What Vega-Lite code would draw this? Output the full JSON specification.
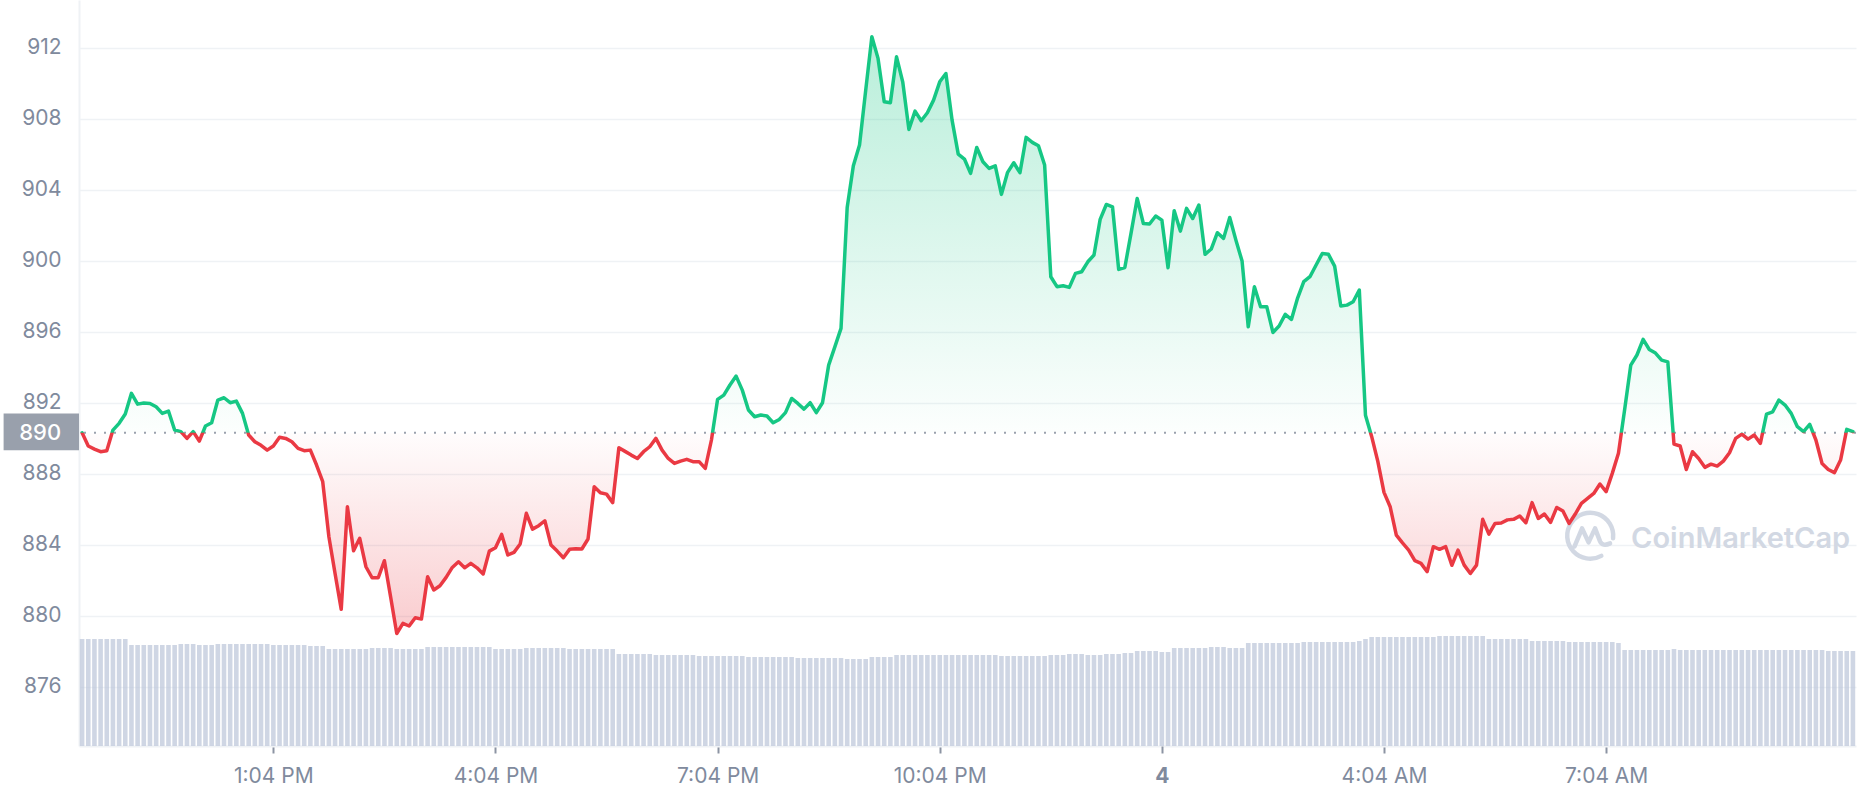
{
  "$schema": "https://vega.github.io/schema/vega-lite/v6.json",
  "width": 1777,
  "height": 746,
  "autosize": {"type": "none"},
  "padding": {"left": 79, "top": 0, "right": 2, "bottom": 54},
  "background": "white",
  "config": {"view": {"stroke": null}, "font": "Inter", "scale": {"continuousPadding": 0}},
  "datasets": {
    "main": [
      {"t":"2023-03-03T10:29Z","p":890.31,"v":107},{"t":"2023-03-03T10:34Z","p":889.56,"v":107},{"t":"2023-03-03T10:39Z","p":889.39,"v":107},{"t":"2023-03-03T10:44Z","p":889.24,"v":107},{"t":"2023-03-03T10:49Z","p":889.30,"v":107},{"t":"2023-03-03T10:54Z","p":890.46,"v":107},{"t":"2023-03-03T10:59Z","p":890.84,"v":107},
      {"t":"2023-03-03T11:04Z","p":891.36,"v":107},{"t":"2023-03-03T11:09Z","p":892.53,"v":101},{"t":"2023-03-03T11:14Z","p":891.92,"v":101},{"t":"2023-03-03T11:19Z","p":891.98,"v":101},{"t":"2023-03-03T11:24Z","p":891.96,"v":101},{"t":"2023-03-03T11:29Z","p":891.77,"v":101},{"t":"2023-03-03T11:34Z","p":891.40,"v":101},{"t":"2023-03-03T11:39Z","p":891.53,"v":101},{"t":"2023-03-03T11:44Z","p":890.46,"v":101},{"t":"2023-03-03T11:49Z","p":890.37,"v":102},{"t":"2023-03-03T11:54Z","p":889.99,"v":102},{"t":"2023-03-03T11:59Z","p":890.37,"v":102},
      {"t":"2023-03-03T12:04Z","p":889.84,"v":101},{"t":"2023-03-03T12:09Z","p":890.69,"v":101},{"t":"2023-03-03T12:14Z","p":890.87,"v":101},{"t":"2023-03-03T12:19Z","p":892.15,"v":102},{"t":"2023-03-03T12:24Z","p":892.28,"v":102},{"t":"2023-03-03T12:29Z","p":892.00,"v":102},{"t":"2023-03-03T12:34Z","p":892.09,"v":102},{"t":"2023-03-03T12:39Z","p":891.40,"v":102},{"t":"2023-03-03T12:44Z","p":890.18,"v":102},{"t":"2023-03-03T12:49Z","p":889.80,"v":102},{"t":"2023-03-03T12:54Z","p":889.60,"v":102},{"t":"2023-03-03T12:59Z","p":889.33,"v":102},
      {"t":"2023-03-03T13:04Z","p":889.56,"v":101},{"t":"2023-03-03T13:09Z","p":890.05,"v":101},{"t":"2023-03-03T13:14Z","p":889.99,"v":101},{"t":"2023-03-03T13:19Z","p":889.80,"v":101},{"t":"2023-03-03T13:24Z","p":889.43,"v":101},{"t":"2023-03-03T13:29Z","p":889.30,"v":101},{"t":"2023-03-03T13:34Z","p":889.33,"v":100},{"t":"2023-03-03T13:39Z","p":888.49,"v":100},{"t":"2023-03-03T13:44Z","p":887.55,"v":100},{"t":"2023-03-03T13:49Z","p":884.45,"v":97},{"t":"2023-03-03T13:54Z","p":882.38,"v":97},{"t":"2023-03-03T13:59Z","p":880.36,"v":97},
      {"t":"2023-03-03T14:04Z","p":886.14,"v":97},{"t":"2023-03-03T14:09Z","p":883.66,"v":97},{"t":"2023-03-03T14:14Z","p":884.36,"v":97},{"t":"2023-03-03T14:19Z","p":882.76,"v":97},{"t":"2023-03-03T14:24Z","p":882.14,"v":98},{"t":"2023-03-03T14:29Z","p":882.14,"v":98},{"t":"2023-03-03T14:34Z","p":883.10,"v":98},{"t":"2023-03-03T14:39Z","p":881.07,"v":98},{"t":"2023-03-03T14:44Z","p":879.00,"v":97},{"t":"2023-03-03T14:49Z","p":879.57,"v":97},{"t":"2023-03-03T14:54Z","p":879.42,"v":97},{"t":"2023-03-03T14:59Z","p":879.89,"v":97},
      {"t":"2023-03-03T15:04Z","p":879.81,"v":97},{"t":"2023-03-03T15:09Z","p":882.20,"v":99},{"t":"2023-03-03T15:14Z","p":881.45,"v":99},{"t":"2023-03-03T15:19Z","p":881.69,"v":99},{"t":"2023-03-03T15:24Z","p":882.16,"v":99},{"t":"2023-03-03T15:29Z","p":882.72,"v":99},{"t":"2023-03-03T15:34Z","p":883.04,"v":99},{"t":"2023-03-03T15:39Z","p":882.70,"v":99},{"t":"2023-03-03T15:44Z","p":882.95,"v":99},{"t":"2023-03-03T15:49Z","p":882.70,"v":99},{"t":"2023-03-03T15:54Z","p":882.35,"v":99},{"t":"2023-03-03T15:59Z","p":883.64,"v":99},
      {"t":"2023-03-03T16:04Z","p":883.83,"v":97},{"t":"2023-03-03T16:09Z","p":884.58,"v":97},{"t":"2023-03-03T16:14Z","p":883.42,"v":97},{"t":"2023-03-03T16:19Z","p":883.57,"v":97},{"t":"2023-03-03T16:24Z","p":884.04,"v":97},{"t":"2023-03-03T16:29Z","p":885.77,"v":98},{"t":"2023-03-03T16:34Z","p":884.88,"v":98},{"t":"2023-03-03T16:39Z","p":885.07,"v":98},{"t":"2023-03-03T16:44Z","p":885.35,"v":98},{"t":"2023-03-03T16:49Z","p":883.98,"v":98},{"t":"2023-03-03T16:54Z","p":883.64,"v":98},{"t":"2023-03-03T16:59Z","p":883.27,"v":98},
      {"t":"2023-03-03T17:04Z","p":883.74,"v":97},{"t":"2023-03-03T17:09Z","p":883.77,"v":97},{"t":"2023-03-03T17:14Z","p":883.76,"v":97},{"t":"2023-03-03T17:19Z","p":884.32,"v":97},{"t":"2023-03-03T17:24Z","p":887.27,"v":97},{"t":"2023-03-03T17:29Z","p":886.93,"v":97},{"t":"2023-03-03T17:34Z","p":886.85,"v":97},{"t":"2023-03-03T17:39Z","p":886.37,"v":97},{"t":"2023-03-03T17:44Z","p":889.46,"v":92},{"t":"2023-03-03T17:49Z","p":889.26,"v":92},{"t":"2023-03-03T17:54Z","p":889.05,"v":92},{"t":"2023-03-03T17:59Z","p":888.86,"v":92},
      {"t":"2023-03-03T18:04Z","p":889.24,"v":92},{"t":"2023-03-03T18:09Z","p":889.52,"v":92},{"t":"2023-03-03T18:14Z","p":889.99,"v":91},{"t":"2023-03-03T18:19Z","p":889.33,"v":91},{"t":"2023-03-03T18:24Z","p":888.86,"v":91},{"t":"2023-03-03T18:29Z","p":888.58,"v":91},{"t":"2023-03-03T18:34Z","p":888.71,"v":91},{"t":"2023-03-03T18:39Z","p":888.81,"v":91},{"t":"2023-03-03T18:44Z","p":888.68,"v":91},{"t":"2023-03-03T18:49Z","p":888.68,"v":90},{"t":"2023-03-03T18:54Z","p":888.30,"v":90},{"t":"2023-03-03T18:59Z","p":889.90,"v":90},
      {"t":"2023-03-03T19:04Z","p":892.19,"v":90},{"t":"2023-03-03T19:09Z","p":892.43,"v":90},{"t":"2023-03-03T19:14Z","p":893.00,"v":90},{"t":"2023-03-03T19:19Z","p":893.50,"v":90},{"t":"2023-03-03T19:24Z","p":892.71,"v":90},{"t":"2023-03-03T19:29Z","p":891.59,"v":89},{"t":"2023-03-03T19:34Z","p":891.21,"v":89},{"t":"2023-03-03T19:39Z","p":891.31,"v":89},{"t":"2023-03-03T19:44Z","p":891.25,"v":89},{"t":"2023-03-03T19:49Z","p":890.87,"v":89},{"t":"2023-03-03T19:54Z","p":891.06,"v":89},{"t":"2023-03-03T19:59Z","p":891.44,"v":89},
      {"t":"2023-03-03T20:04Z","p":892.24,"v":89},{"t":"2023-03-03T20:09Z","p":891.96,"v":88},{"t":"2023-03-03T20:14Z","p":891.64,"v":88},{"t":"2023-03-03T20:19Z","p":892.00,"v":88},{"t":"2023-03-03T20:24Z","p":891.44,"v":88},{"t":"2023-03-03T20:29Z","p":892.00,"v":88},{"t":"2023-03-03T20:34Z","p":894.12,"v":88},{"t":"2023-03-03T20:39Z","p":895.15,"v":88},{"t":"2023-03-03T20:44Z","p":896.19,"v":88},{"t":"2023-03-03T20:49Z","p":903.00,"v":87},{"t":"2023-03-03T20:54Z","p":905.35,"v":87},{"t":"2023-03-03T20:59Z","p":906.52,"v":87},
      {"t":"2023-03-03T21:04Z","p":909.60,"v":87},{"t":"2023-03-03T21:09Z","p":912.62,"v":89},{"t":"2023-03-03T21:14Z","p":911.40,"v":89},{"t":"2023-03-03T21:19Z","p":908.96,"v":89},{"t":"2023-03-03T21:24Z","p":908.90,"v":89},{"t":"2023-03-03T21:29Z","p":911.49,"v":91},{"t":"2023-03-03T21:34Z","p":910.08,"v":91},{"t":"2023-03-03T21:39Z","p":907.40,"v":91},{"t":"2023-03-03T21:44Z","p":908.43,"v":91},{"t":"2023-03-03T21:49Z","p":907.89,"v":91},{"t":"2023-03-03T21:54Z","p":908.34,"v":91},{"t":"2023-03-03T21:59Z","p":909.05,"v":91},
      {"t":"2023-03-03T22:04Z","p":910.08,"v":91},{"t":"2023-03-03T22:09Z","p":910.55,"v":91},{"t":"2023-03-03T22:14Z","p":907.92,"v":91},{"t":"2023-03-03T22:19Z","p":906.01,"v":91},{"t":"2023-03-03T22:24Z","p":905.73,"v":91},{"t":"2023-03-03T22:29Z","p":904.92,"v":91},{"t":"2023-03-03T22:34Z","p":906.38,"v":91},{"t":"2023-03-03T22:39Z","p":905.58,"v":91},{"t":"2023-03-03T22:44Z","p":905.20,"v":91},{"t":"2023-03-03T22:49Z","p":905.35,"v":91},{"t":"2023-03-03T22:54Z","p":903.74,"v":90},{"t":"2023-03-03T22:59Z","p":904.98,"v":90},
      {"t":"2023-03-03T23:04Z","p":905.52,"v":90},{"t":"2023-03-03T23:09Z","p":904.96,"v":90},{"t":"2023-03-03T23:14Z","p":906.95,"v":90},{"t":"2023-03-03T23:19Z","p":906.67,"v":90},{"t":"2023-03-03T23:24Z","p":906.48,"v":90},{"t":"2023-03-03T23:29Z","p":905.39,"v":90},{"t":"2023-03-03T23:34Z","p":899.10,"v":91},{"t":"2023-03-03T23:39Z","p":898.54,"v":91},{"t":"2023-03-03T23:44Z","p":898.59,"v":91},{"t":"2023-03-03T23:49Z","p":898.50,"v":92},{"t":"2023-03-03T23:54Z","p":899.29,"v":92},{"t":"2023-03-03T23:59Z","p":899.38,"v":92},
      {"t":"2023-03-04T00:04Z","p":899.94,"v":91},{"t":"2023-03-04T00:09Z","p":900.32,"v":91},{"t":"2023-03-04T00:14Z","p":902.33,"v":91},{"t":"2023-03-04T00:19Z","p":903.17,"v":92},{"t":"2023-03-04T00:24Z","p":903.04,"v":92},{"t":"2023-03-04T00:29Z","p":899.51,"v":92},{"t":"2023-03-04T00:34Z","p":899.62,"v":93},{"t":"2023-03-04T00:39Z","p":901.54,"v":93},{"t":"2023-03-04T00:44Z","p":903.51,"v":95},{"t":"2023-03-04T00:49Z","p":902.10,"v":95},{"t":"2023-03-04T00:54Z","p":902.07,"v":95},{"t":"2023-03-04T00:59Z","p":902.52,"v":95},
      {"t":"2023-03-04T01:04Z","p":902.29,"v":94},{"t":"2023-03-04T01:09Z","p":899.61,"v":94},{"t":"2023-03-04T01:14Z","p":902.82,"v":98},{"t":"2023-03-04T01:19Z","p":901.67,"v":98},{"t":"2023-03-04T01:24Z","p":902.95,"v":98},{"t":"2023-03-04T01:29Z","p":902.38,"v":98},{"t":"2023-03-04T01:34Z","p":903.14,"v":98},{"t":"2023-03-04T01:39Z","p":900.36,"v":98},{"t":"2023-03-04T01:44Z","p":900.66,"v":99},{"t":"2023-03-04T01:49Z","p":901.58,"v":99},{"t":"2023-03-04T01:54Z","p":901.26,"v":99},{"t":"2023-03-04T01:59Z","p":902.44,"v":98},
      {"t":"2023-03-04T02:04Z","p":901.16,"v":98},{"t":"2023-03-04T02:09Z","p":899.98,"v":98},{"t":"2023-03-04T02:14Z","p":896.28,"v":103},{"t":"2023-03-04T02:19Z","p":898.54,"v":103},{"t":"2023-03-04T02:24Z","p":897.41,"v":103},{"t":"2023-03-04T02:29Z","p":897.41,"v":103},{"t":"2023-03-04T02:34Z","p":895.96,"v":103},{"t":"2023-03-04T02:39Z","p":896.32,"v":103},{"t":"2023-03-04T02:44Z","p":896.98,"v":103},{"t":"2023-03-04T02:49Z","p":896.69,"v":103},{"t":"2023-03-04T02:54Z","p":897.90,"v":103},{"t":"2023-03-04T02:59Z","p":898.82,"v":104},
      {"t":"2023-03-04T03:04Z","p":899.10,"v":104},{"t":"2023-03-04T03:09Z","p":899.76,"v":104},{"t":"2023-03-04T03:14Z","p":900.41,"v":104},{"t":"2023-03-04T03:19Z","p":900.36,"v":104},{"t":"2023-03-04T03:24Z","p":899.70,"v":104},{"t":"2023-03-04T03:29Z","p":897.45,"v":104},{"t":"2023-03-04T03:34Z","p":897.50,"v":104},{"t":"2023-03-04T03:39Z","p":897.69,"v":104},{"t":"2023-03-04T03:44Z","p":898.35,"v":105},{"t":"2023-03-04T03:49Z","p":891.30,"v":107},{"t":"2023-03-04T03:54Z","p":890.10,"v":109},{"t":"2023-03-04T03:59Z","p":888.70,"v":109},
      {"t":"2023-03-04T04:04Z","p":886.95,"v":109},{"t":"2023-03-04T04:09Z","p":886.14,"v":109},{"t":"2023-03-04T04:14Z","p":884.54,"v":109},{"t":"2023-03-04T04:19Z","p":884.10,"v":109},{"t":"2023-03-04T04:24Z","p":883.70,"v":109},{"t":"2023-03-04T04:29Z","p":883.10,"v":109},{"t":"2023-03-04T04:34Z","p":882.95,"v":109},{"t":"2023-03-04T04:39Z","p":882.48,"v":109},{"t":"2023-03-04T04:44Z","p":883.89,"v":109},{"t":"2023-03-04T04:49Z","p":883.74,"v":110},{"t":"2023-03-04T04:54Z","p":883.89,"v":110},{"t":"2023-03-04T04:59Z","p":882.84,"v":110},
      {"t":"2023-03-04T05:04Z","p":883.70,"v":110},{"t":"2023-03-04T05:09Z","p":882.85,"v":110},{"t":"2023-03-04T05:14Z","p":882.38,"v":110},{"t":"2023-03-04T05:19Z","p":882.85,"v":110},{"t":"2023-03-04T05:24Z","p":885.43,"v":110},{"t":"2023-03-04T05:29Z","p":884.60,"v":107},{"t":"2023-03-04T05:34Z","p":885.20,"v":107},{"t":"2023-03-04T05:39Z","p":885.22,"v":107},{"t":"2023-03-04T05:44Z","p":885.40,"v":107},{"t":"2023-03-04T05:49Z","p":885.43,"v":107},{"t":"2023-03-04T05:54Z","p":885.62,"v":107},{"t":"2023-03-04T05:59Z","p":885.24,"v":107},
      {"t":"2023-03-04T06:04Z","p":886.37,"v":105},{"t":"2023-03-04T06:09Z","p":885.48,"v":105},{"t":"2023-03-04T06:14Z","p":885.73,"v":105},{"t":"2023-03-04T06:19Z","p":885.26,"v":105},{"t":"2023-03-04T06:24Z","p":886.10,"v":105},{"t":"2023-03-04T06:29Z","p":885.90,"v":105},{"t":"2023-03-04T06:34Z","p":885.20,"v":104},{"t":"2023-03-04T06:39Z","p":885.73,"v":104},{"t":"2023-03-04T06:44Z","p":886.33,"v":104},{"t":"2023-03-04T06:49Z","p":886.61,"v":104},{"t":"2023-03-04T06:54Z","p":886.89,"v":104},{"t":"2023-03-04T06:59Z","p":887.42,"v":104},
      {"t":"2023-03-04T07:04Z","p":886.99,"v":104},{"t":"2023-03-04T07:09Z","p":888.02,"v":104},{"t":"2023-03-04T07:14Z","p":889.15,"v":103},{"t":"2023-03-04T07:19Z","p":891.60,"v":96},{"t":"2023-03-04T07:24Z","p":894.12,"v":96},{"t":"2023-03-04T07:29Z","p":894.69,"v":96},{"t":"2023-03-04T07:34Z","p":895.57,"v":96},{"t":"2023-03-04T07:39Z","p":895.00,"v":96},{"t":"2023-03-04T07:44Z","p":894.80,"v":96},{"t":"2023-03-04T07:49Z","p":894.40,"v":96},{"t":"2023-03-04T07:54Z","p":894.30,"v":96},{"t":"2023-03-04T07:59Z","p":889.67,"v":97},
      {"t":"2023-03-04T08:04Z","p":889.56,"v":96},{"t":"2023-03-04T08:09Z","p":888.24,"v":96},{"t":"2023-03-04T08:14Z","p":889.24,"v":96},{"t":"2023-03-04T08:19Z","p":888.86,"v":96},{"t":"2023-03-04T08:24Z","p":888.36,"v":96},{"t":"2023-03-04T08:29Z","p":888.54,"v":96},{"t":"2023-03-04T08:34Z","p":888.43,"v":96},{"t":"2023-03-04T08:39Z","p":888.71,"v":96},{"t":"2023-03-04T08:44Z","p":889.18,"v":96},{"t":"2023-03-04T08:49Z","p":889.99,"v":96},{"t":"2023-03-04T08:54Z","p":890.23,"v":96},{"t":"2023-03-04T08:59Z","p":889.95,"v":96},
      {"t":"2023-03-04T09:04Z","p":890.18,"v":96},{"t":"2023-03-04T09:09Z","p":889.71,"v":96},{"t":"2023-03-04T09:14Z","p":891.36,"v":96},{"t":"2023-03-04T09:19Z","p":891.49,"v":96},{"t":"2023-03-04T09:24Z","p":892.15,"v":96},{"t":"2023-03-04T09:29Z","p":891.87,"v":96},{"t":"2023-03-04T09:34Z","p":891.40,"v":96},{"t":"2023-03-04T09:39Z","p":890.65,"v":96},{"t":"2023-03-04T09:44Z","p":890.37,"v":96},{"t":"2023-03-04T09:49Z","p":890.78,"v":96},{"t":"2023-03-04T09:54Z","p":889.90,"v":96},{"t":"2023-03-04T09:59Z","p":888.58,"v":96},
      {"t":"2023-03-04T10:04Z","p":888.24,"v":95},{"t":"2023-03-04T10:09Z","p":888.06,"v":95},{"t":"2023-03-04T10:14Z","p":888.77,"v":95},{"t":"2023-03-04T10:19Z","p":890.50,"v":95},{"t":"2023-03-04T10:24Z","p":890.37,"v":95}
    ],
    "box": [{"t": "2023-03-03T09:25:24Z", "t2": "2023-03-03T10:26:30Z", "p": 889.32, "p2": 891.39}],
    "boxlabel": [{"t": "2023-03-03T09:55:05Z", "p": 890.31, "label": "890"}],
    "ref": [{"p": 890.31}],
    "wmtext": [{"t": "2023-03-04T07:24:15Z", "p": 884.3, "label": "CoinMarketCap"}],
    "wmlogo": [{"t": "2023-03-04T06:51:00Z", "p": 884.5}]
  },
  "resolve": {"scale": {"y": "independent"}, "axis": {"x": "independent"}},
  "layer": [
    {
      "data": {"name": "main"},
      "mark": {"type": "bar", "size": 4.6, "color": "#bac4d8", "opacity": 0.7},
      "encoding": {
        "x": {
          "field": "t", "type": "temporal",
          "scale": {"type": "utc", "padding": 0, "domain": [{"year": 2023, "month": 3, "date": 3, "hours": 10, "minutes": 26, "seconds": 30, "utc": true}, {"year": 2023, "month": 3, "date": 4, "hours": 10, "minutes": 26, "seconds": 30, "utc": true}]},
          "axis": {
            "orient": "bottom",
            "title": null,
            "grid": false,
            "values": [
              {"year": 2023, "month": 3, "date": 3, "hours": 13, "minutes": 4, "utc": true},
              {"year": 2023, "month": 3, "date": 3, "hours": 16, "minutes": 4, "utc": true},
              {"year": 2023, "month": 3, "date": 3, "hours": 19, "minutes": 4, "utc": true},
              {"year": 2023, "month": 3, "date": 3, "hours": 22, "minutes": 4, "utc": true},
              {"year": 2023, "month": 3, "date": 4, "hours": 4, "minutes": 4, "utc": true},
              {"year": 2023, "month": 3, "date": 4, "hours": 7, "minutes": 4, "utc": true}
            ],
            "labelExpr": "utcFormat(datum.value, '%-I:%M %p')",
            "labelFont": "Inter",
            "labelFontSize": 21,
            "labelFontWeight": "normal",
            "labelColor": "#808a9d",
            "labelPadding": 12,
            "labelFlush": false,
            "labelOverlap": false,
            "domain": true,
            "domainColor": "#eff2f5",
            "domainWidth": 2,
            "ticks": true,
            "tickColor": "#8c94a3",
            "tickSize": 7,
            "tickWidth": 2
          }
        },
        "y": {"field": "v", "type": "quantitative", "scale": {"domain": [0, 746], "nice": false, "padding": 0}, "axis": null}
      }
    },
    {
      "data": {"name": "wmlogo"},
      "mark": {"type": "point", "shape": "M0.92,0.1 A0.92,0.92 0 1,0 0.45,0.8 M-0.62,0.42 L-0.32,-0.3 L-0.06,0.26 L0.2,-0.3 L0.4,0.22 Q0.5,0.44 0.8,0.3", "size": 2500, "filled": false, "color": "#d2d8e3", "strokeWidth": 4.5, "opacity": 1, "strokeCap": "round", "strokeJoin": "round"},
      "encoding": {
        "x": {"field": "t", "type": "temporal", "scale": {"type": "utc", "padding": 0, "domain": [{"year": 2023, "month": 3, "date": 3, "hours": 10, "minutes": 26, "seconds": 30, "utc": true}, {"year": 2023, "month": 3, "date": 4, "hours": 10, "minutes": 26, "seconds": 30, "utc": true}]}, "axis": null},
        "y": {"field": "p", "type": "quantitative", "scale": {"domain": [872.66, 914.69], "nice": false, "zero": false}, "axis": null}
      }
    },
    {
      "data": {"name": "wmtext"},
      "mark": {"type": "text", "align": "left", "baseline": "middle", "font": "Inter", "fontSize": 29, "fontWeight": 600, "color": "#d2d8e3"},
      "encoding": {
        "x": {"field": "t", "type": "temporal", "scale": {"type": "utc", "padding": 0, "domain": [{"year": 2023, "month": 3, "date": 3, "hours": 10, "minutes": 26, "seconds": 30, "utc": true}, {"year": 2023, "month": 3, "date": 4, "hours": 10, "minutes": 26, "seconds": 30, "utc": true}]}, "axis": null},
        "y": {"field": "p", "type": "quantitative", "scale": {"domain": [872.66, 914.69], "nice": false, "zero": false}, "axis": null},
        "text": {"field": "label"}
      }
    },
    {
      "data": {"name": "main"},
      "mark": {
        "type": "area",
        "interpolate": "linear",
        "fill": {"gradient": "linear", "x1": 0, "y1": 0, "x2": 0, "y2": 1, "stops": [
          {"offset": 0, "color": "rgba(22,199,132,0.30)"},
          {"offset": 0.6636, "color": "rgba(22,199,132,0.01)"},
          {"offset": 0.6637, "color": "rgba(234,57,67,0.01)"},
          {"offset": 1, "color": "rgba(234,57,67,0.26)"}
        ]}
      },
      "encoding": {
        "x": {"field": "t", "type": "temporal", "scale": {"type": "utc", "padding": 0, "domain": [{"year": 2023, "month": 3, "date": 3, "hours": 10, "minutes": 26, "seconds": 30, "utc": true}, {"year": 2023, "month": 3, "date": 4, "hours": 10, "minutes": 26, "seconds": 30, "utc": true}]}, "axis": null},
        "y": {
          "field": "p", "type": "quantitative",
          "scale": {"domain": [872.66, 914.69], "nice": false, "zero": false},
          "axis": {
            "orient": "left",
            "title": null,
            "values": [876, 880, 884, 888, 892, 896, 900, 904, 908, 912],
            "grid": true,
            "gridColor": "#eff2f5",
            "gridWidth": 1.5,
            "domain": true,
            "domainColor": "#eff2f5",
            "domainWidth": 2,
            "ticks": false,
            "labelFont": "Inter",
            "labelFontSize": 21,
            "labelColor": "#808a9d",
            "labelPadding": 18
          }
        },
        "y2": {"datum": 890.31}
      }
    },
    {
      "data": {"name": "ref"},
      "mark": {"type": "rule", "strokeDash": [2, 8], "color": "#9aa1ad", "strokeWidth": 2},
      "encoding": {
        "y": {"field": "p", "type": "quantitative", "scale": {"domain": [872.66, 914.69], "nice": false, "zero": false}, "axis": null}
      }
    },
    {
      "data": {"name": "main"},
      "mark": {
        "type": "line",
        "interpolate": "linear",
        "strokeWidth": 3.5,
        "strokeJoin": "round",
        "strokeCap": "round",
        "stroke": {"gradient": "linear", "x1": 0, "y1": 0, "x2": 0, "y2": 1, "stops": [
          {"offset": 0, "color": "#16c784"},
          {"offset": 0.6625, "color": "#16c784"},
          {"offset": 0.6648, "color": "#ea3943"},
          {"offset": 1, "color": "#ea3943"}
        ]}
      },
      "encoding": {
        "x": {
          "field": "t", "type": "temporal",
          "scale": {"type": "utc", "padding": 0, "domain": [{"year": 2023, "month": 3, "date": 3, "hours": 10, "minutes": 26, "seconds": 30, "utc": true}, {"year": 2023, "month": 3, "date": 4, "hours": 10, "minutes": 26, "seconds": 30, "utc": true}]},
          "axis": {
            "orient": "bottom",
            "title": null,
            "grid": false,
            "values": [{"year": 2023, "month": 3, "date": 4, "hours": 1, "minutes": 4, "utc": true}],
            "labelExpr": "utcFormat(datum.value, '%-d')",
            "labelFont": "Inter",
            "labelFontSize": 21,
            "labelFontWeight": "bold",
            "labelColor": "#808a9d",
            "labelPadding": 12,
            "labelFlush": false,
            "labelOverlap": false,
            "domain": false,
            "ticks": true,
            "tickColor": "#8c94a3",
            "tickSize": 7,
            "tickWidth": 2
          }
        },
        "y": {"field": "p", "type": "quantitative", "scale": {"domain": [872.66, 914.69], "nice": false, "zero": false}, "axis": null}
      }
    },
    {
      "data": {"name": "box"},
      "mark": {"type": "rect", "color": "#99a0ac"},
      "encoding": {
        "x": {"field": "t", "type": "temporal", "scale": {"type": "utc", "padding": 0, "domain": [{"year": 2023, "month": 3, "date": 3, "hours": 10, "minutes": 26, "seconds": 30, "utc": true}, {"year": 2023, "month": 3, "date": 4, "hours": 10, "minutes": 26, "seconds": 30, "utc": true}]}, "axis": null},
        "x2": {"field": "t2"},
        "y": {"field": "p", "type": "quantitative", "scale": {"domain": [872.66, 914.69], "nice": false, "zero": false}, "axis": null},
        "y2": {"field": "p2"}
      }
    },
    {
      "data": {"name": "boxlabel"},
      "mark": {"type": "text", "align": "center", "baseline": "middle", "font": "Inter", "fontSize": 22, "fontWeight": 500, "color": "#ffffff"},
      "encoding": {
        "x": {"field": "t", "type": "temporal", "scale": {"type": "utc", "padding": 0, "domain": [{"year": 2023, "month": 3, "date": 3, "hours": 10, "minutes": 26, "seconds": 30, "utc": true}, {"year": 2023, "month": 3, "date": 4, "hours": 10, "minutes": 26, "seconds": 30, "utc": true}]}, "axis": null},
        "y": {"field": "p", "type": "quantitative", "scale": {"domain": [872.66, 914.69], "nice": false, "zero": false}, "axis": null},
        "text": {"field": "label"}
      }
    }
  ]
}
